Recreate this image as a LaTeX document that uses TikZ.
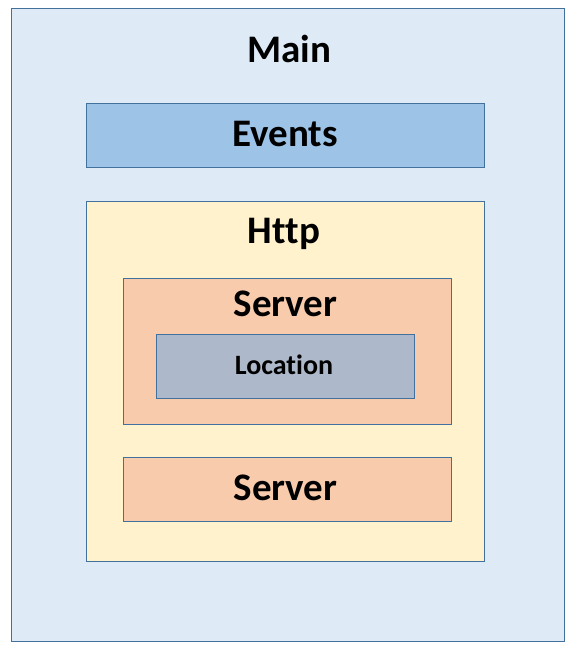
\documentclass[tikz,border=0pt]{standalone}
\usepackage{fontspec}
\setmainfont{Carlito}[Ligatures={NoCommon}]
\definecolor{bordc}{HTML}{41719C}
\definecolor{mainc}{HTML}{DEEBF7}
\definecolor{evc}{HTML}{9DC3E6}
\definecolor{httpc}{HTML}{FFF2CC}
\definecolor{srvc}{HTML}{F8CBAD}
\definecolor{locc}{HTML}{ADB9CA}
\tikzset{
  box/.style={draw=bordc, line width=1pt},
  big/.style={inner sep=0pt, anchor=base, font=\fontsize{39}{41}\selectfont\bfseries},
  small/.style={inner sep=0pt, anchor=base, font=\fontsize{28}{30}\selectfont\bfseries},
}
\begin{document}
\begin{tikzpicture}[x=1pt,y=-1pt]
\useasboundingbox (0,0) rectangle (579,656);
\fill[white] (0,0) rectangle (579,656);
\draw[box, fill=mainc] (11.5,8.5) rectangle (564,641);
\draw[box, fill=evc] (86.5,103.5) rectangle (484,167);
\draw[box, fill=httpc] (86.5,201.5) rectangle (484,561.5);
\draw[box, fill=srvc] (123.5,278.5) rectangle (451,424);
\draw[box, fill=locc] (156.5,334.5) rectangle (414,398);
\draw[box, fill=srvc] (123.5,457.5) rectangle (451,521);
\node[big] (main) at (289,62.7) {Main};
\node[big] (events) at (285,146.5) {Events};
\node[big] (http) at (284,243.7) {Http};
\node[big] (server1) at (285.5,316) {Server};
\node[small] (location) at (284,374.3) {Location};
\node[big] (server2) at (285.5,500.7) {Server};
\end{tikzpicture}
\end{document}
